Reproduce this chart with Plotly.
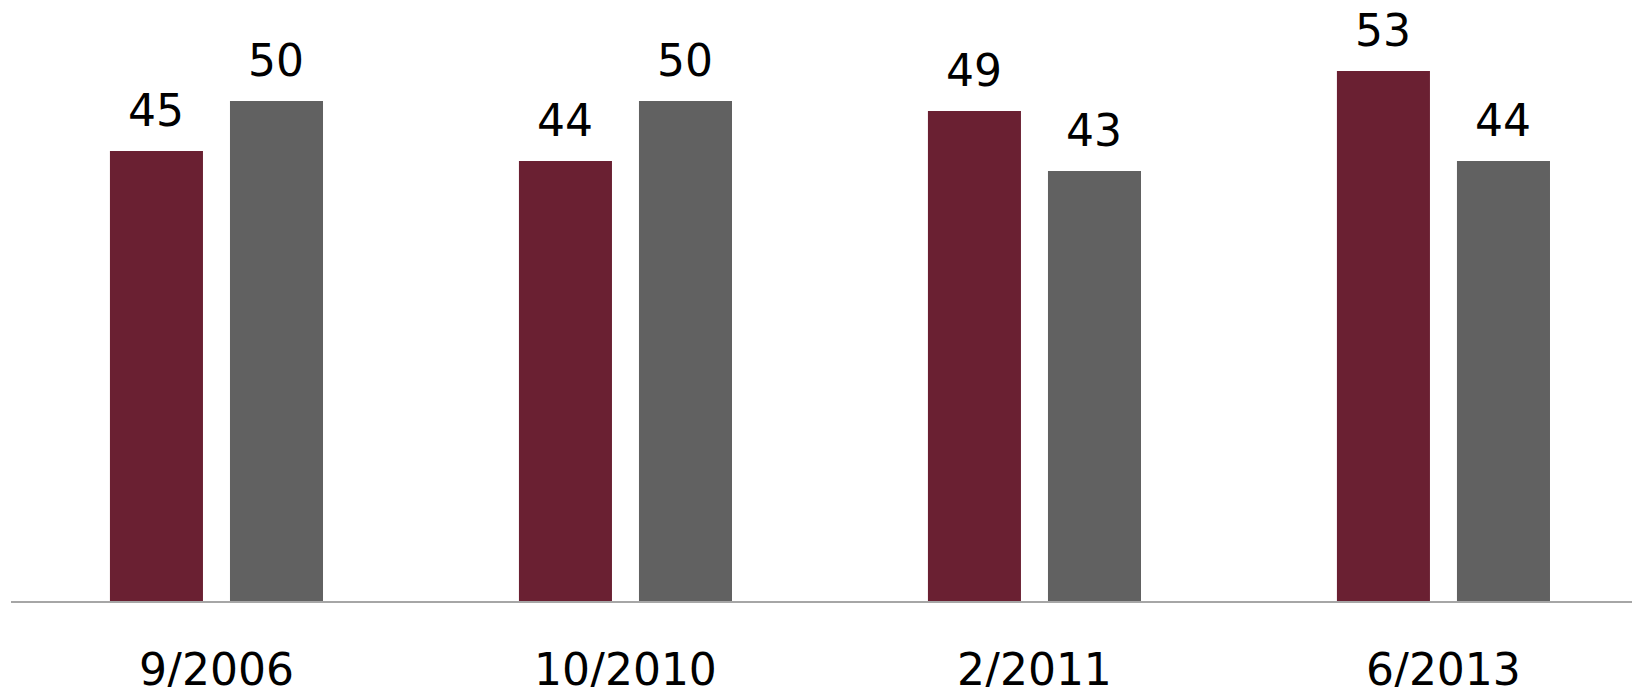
import plotly.graph_objects as go

categories = ["9/2006", "10/2010", "2/2011", "6/2013"]
series1_values = [45, 44, 49, 53]
series2_values = [50, 50, 43, 44]
series1_name = "Series 1"
series2_name = "Series 2"

red = "#6A2032"
gray = "#616161"
font_family = "DejaVu Sans"
font_size = 44

fig = go.Figure()
fig.add_trace(go.Bar(x=categories, y=series1_values, name=series1_name,
                     marker=dict(color=red, line=dict(width=0)), hoverinfo="x+y"))
fig.add_trace(go.Bar(x=categories, y=series2_values, name=series2_name,
                     marker=dict(color=gray, line=dict(width=0)), hoverinfo="x+y"))

annotations = []
for vals, shift in ((series1_values, -60), (series2_values, 60)):
    for c, v in zip(categories, vals):
        annotations.append(dict(x=c, y=v, xref="x", yref="y", text=str(v),
                                showarrow=False, xanchor="center", yanchor="bottom",
                                xshift=shift, yshift=13,
                                font=dict(family=font_family, size=font_size, color="#000000")))

fig.update_layout(
    width=1632, height=687,
    margin=dict(l=11, r=0, t=0, b=86),
    paper_bgcolor="white", plot_bgcolor="white",
    barmode="group", bargap=0.413, bargroupgap=0.225,
    showlegend=False,
    annotations=annotations,
    font=dict(family=font_family, size=font_size, color="#000000"),
)
fig.update_xaxes(range=[-0.5024, 3.461], showline=True, linecolor="#A6A6A6", linewidth=2,
                 showgrid=False, zeroline=False, ticks="", ticklabelstandoff=29,
                 automargin=False,
                 tickfont=dict(family=font_family, size=font_size, color="#000000"))
fig.update_yaxes(range=[0, 60.1], visible=False, showgrid=False, zeroline=False,
                 automargin=False)

fig.write_html("out.html", config={"displayModeBar": False},
               post_script="document.body.style.margin='0';document.body.style.overflow='hidden';")
